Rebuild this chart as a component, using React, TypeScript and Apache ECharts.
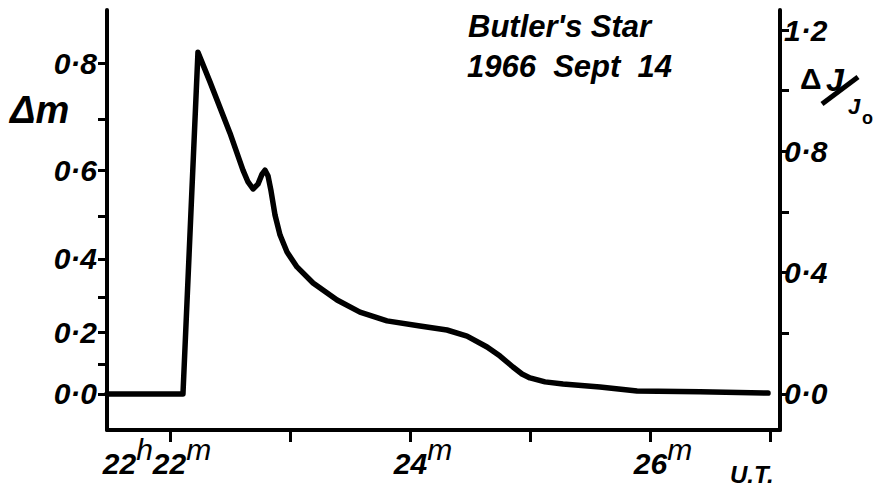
import React, { useEffect, useRef } from 'react';
import * as echarts from 'echarts';

// Time in minutes after 22h (U.T.)
const timeMinutes = [
  21.475, 22.108, 22.233, 22.333, 22.5, 22.608, 22.65, 22.692, 22.733, 22.767,
  22.792, 22.817, 22.842, 22.875, 22.917, 22.975, 23.058, 23.192, 23.392, 23.583,
  23.808, 24.083, 24.308, 24.475, 24.642, 24.75, 24.858, 24.933, 25.0, 25.125,
  25.275, 25.583, 25.892, 26.417, 26.983,
];
// ΔJ/J0 (right axis, linear)
const fluxRatio = [
  0, 0, 1.127, 1.029, 0.86, 0.738, 0.699, 0.676, 0.692, 0.725,
  0.738, 0.719, 0.669, 0.59, 0.524, 0.468, 0.419, 0.366, 0.31, 0.27,
  0.241, 0.224, 0.211, 0.191, 0.155, 0.125, 0.089, 0.066, 0.053, 0.04,
  0.033, 0.023, 0.01, 0.007, 0.003,
];

const xTickMinutes = [22, 23, 24, 25, 26, 27];
const xLabelMinutes = [22, 24, 26];
const rightTickValues = [0, 0.2, 0.4, 0.6, 0.8, 1.0, 1.2];
const rightLabelValues = [0, 0.4, 0.8, 1.2];
const leftTickMags = [0, 0.1, 0.2, 0.3, 0.4, 0.5, 0.6, 0.7, 0.8];
const leftLabelMags = [0, 0.2, 0.4, 0.6, 0.8];

const magToFlux = (m: number) => Math.pow(10, 0.4 * m) - 1;
const fluxToMag = (f: number) => 2.5 * Math.log10(1 + f);
const fmt = (v: number) => v.toFixed(1).replace('.', '·');

const FONT = '"Liberation Sans", Arial, sans-serif';

export default function App() {
  const ref = useRef<HTMLDivElement>(null);
  useEffect(() => {
    if (!ref.current) return;
    const chart = echarts.init(ref.current, undefined, { renderer: 'svg' });
    const yMin = -0.1187;
    const yMax = 1.266;
    const labelBase = {
      color: '#000',
      fontFamily: FONT,
      fontWeight: 'bold' as const,
      fontStyle: 'italic' as const,
      fontSize: 30,
    };
    const rich = {
      n: { ...labelBase, fontSize: 30, lineHeight: 44, verticalAlign: 'bottom' },
      s: { ...labelBase, fontWeight: 'normal', fontSize: 30, lineHeight: 28, verticalAlign: 'top' },
      gap: { width: 26, lineHeight: 44 },
    };
    const option: any = {
      animation: false,
      backgroundColor: '#ffffff',
      grid: { left: 107, right: 97, top: 10, bottom: 60, containLabel: false, outerBoundsMode: 'none' },
      xAxis: {
        type: 'value',
        min: 21.475,
        max: 27.083,
        position: 'bottom',
        axisLine: { show: true, onZero: false, lineStyle: { color: '#000', width: 4 } },
        axisTick: { show: true, customValues: xTickMinutes, length: 12, lineStyle: { color: '#000', width: 3 } },
        axisLabel: {
          customValues: xLabelMinutes,
          margin: 4,
          formatter: (v: number) => {
            if (Math.abs(v - 22) < 1e-6) return '{n|22}{s|h}{n|22}{s|m}{gap| }';
            return '{gap| }{n|' + Math.round(v) + '}{s|m}';
          },
          rich,
        },
        splitLine: { show: false },
      },
      yAxis: [
        {
          type: 'value',
          position: 'left',
          min: yMin,
          max: yMax,
          axisLine: { show: true, onZero: false, lineStyle: { color: '#000', width: 4 } },
          axisTick: {
            show: true,
            customValues: leftTickMags.map(magToFlux),
            length: 9,
            lineStyle: { color: '#000', width: 3 },
          },
          axisLabel: {
            ...labelBase,
            customValues: leftLabelMags.map(magToFlux),
            margin: 10,
            formatter: (v: number) => fmt(fluxToMag(v)),
          },
          splitLine: { show: false },
        },
        {
          type: 'value',
          position: 'right',
          min: yMin,
          max: yMax,
          axisLine: { show: true, onZero: false, lineStyle: { color: '#000', width: 4 } },
          axisTick: {
            show: true,
            customValues: rightTickValues,
            length: 9,
            lineStyle: { color: '#000', width: 3 },
          },
          axisLabel: {
            ...labelBase,
            customValues: rightLabelValues,
            margin: 4,
            formatter: (v: number) => fmt(v),
          },
          splitLine: { show: false },
        },
      ],
      graphic: [
        { type: 'text', x: 468, y: 26, style: { text: "Butler's Star", font: `italic bold 31px ${FONT}`, fill: '#000', verticalAlign: 'middle' } },
        { type: 'text', x: 467, y: 66, style: { text: '1966  Sept  14', font: `italic bold 31px ${FONT}`, fill: '#000', verticalAlign: 'middle' } },
        { type: 'text', x: 10, y: 110, style: { text: 'Δm', font: `italic bold 38px ${FONT}`, fill: '#000', verticalAlign: 'middle' } },
        { type: 'text', x: 800, y: 78, style: { text: 'Δ', font: `bold 30px ${FONT}`, fill: '#000', verticalAlign: 'middle' } },
        { type: 'text', x: 826, y: 80, style: { text: 'J', font: `italic bold 32px ${FONT}`, fill: '#000', verticalAlign: 'middle' } },
        { type: 'line', shape: { x1: 822, y1: 104, x2: 858, y2: 77 }, style: { stroke: '#000', lineWidth: 5 } },
        { type: 'text', x: 848, y: 106, style: { text: 'J', font: `italic bold 22px ${FONT}`, fill: '#000', verticalAlign: 'middle' } },
        { type: 'text', x: 862, y: 118, style: { text: 'o', font: `bold 18px ${FONT}`, fill: '#000', verticalAlign: 'middle' } },
        { type: 'text', x: 730, y: 474, style: { text: 'U.T.', font: `italic bold 24px ${FONT}`, fill: '#000', verticalAlign: 'middle' } },
      ],
      series: [
        {
          type: 'line',
          yAxisIndex: 1,
          data: timeMinutes.map((t, i) => [t, fluxRatio[i]]),
          showSymbol: false,
          symbol: 'none',
          smooth: false,
          lineStyle: { color: '#000', width: 5.5, join: 'round', cap: 'round' },
        },
      ],
    };
    chart.setOption(option);
    return () => chart.dispose();
  }, []);
  return (
    <div
      ref={ref}
      style={{ position: 'fixed', left: 0, top: 0, width: 877, height: 490, background: '#fff' }}
    />
  );
}
